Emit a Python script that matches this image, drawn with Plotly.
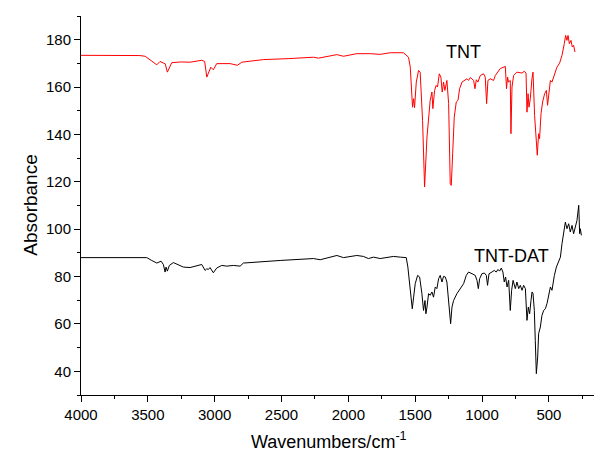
import plotly.graph_objects as go

# TNT spectrum (red), wavenumber / absorbance
wn_tnt = [4000, 3700, 3560, 3520, 3484, 3433, 3409, 3370, 3354, 3321, 3250, 3184, 3097, 3075,
          3059, 3029, 3010, 2985, 2885, 2830, 2797, 2635, 2450, 2261, 2224, 2086, 2037, 1937,
          1837, 1762, 1687, 1588, 1550, 1537, 1520, 1512, 1505, 1492, 1475, 1463, 1445, 1430,
          1412, 1400, 1388, 1375, 1368, 1355, 1343, 1333, 1320, 1308, 1298, 1288, 1278, 1263,
          1250, 1238, 1230, 1220, 1208, 1193, 1180, 1168, 1150, 1113, 1101, 1088, 1063, 1053,
          1043, 1031, 1013, 989, 976, 966, 956, 939, 914, 901, 864, 826, 821, 817, 809, 802,
          789, 784, 776, 764, 739, 701, 684, 671, 664, 656, 649, 639, 627, 619, 607, 597, 587,
          577, 570, 559, 547, 532, 519, 510, 499, 489, 477, 465, 440, 420, 402, 385, 375, 365,
          357, 347, 335, 325, 315, 305]
abs_tnt = [173.4, 173.4, 173.3, 173.0, 171.6, 169.4, 170.8, 169.8, 166.3, 170.3, 170.6, 170.5,
           171.3, 170.8, 164.2, 168.4, 167.3, 169.9, 169.9, 169.2, 170.5, 171.6, 172.0, 172.6,
           172.2, 173.7, 173.0, 174.1, 174.1, 173.8, 174.5, 174.5, 172.6, 168.4, 151.5, 155.1,
           151.3, 162.1, 167.0, 166.3, 145.9, 117.8, 138.9, 148.0, 154.4, 157.9, 150.9, 158.6,
           160.7, 160.0, 165.6, 164.2, 157.9, 162.1, 158.6, 162.8, 153.0, 119.2, 118.5, 131.9,
           147.3, 153.7, 154.4, 159.3, 162.1, 163.5, 162.8, 164.0, 162.8, 159.3, 163.1, 162.1,
           164.9, 165.6, 164.2, 153.0, 162.8, 163.5, 162.8, 164.9, 167.8, 168.7, 164.9, 159.3,
           164.2, 162.1, 162.8, 140.3, 160.0, 164.9, 166.3, 165.9, 166.7, 165.9, 149.4, 157.2,
           151.5, 155.1, 163.5, 166.3, 148.0, 140.3, 131.2, 140.3, 138.2, 148.8, 153.7, 157.2,
           158.6, 152.3, 157.2, 162.8, 162.1, 164.2, 168.4, 170.1, 173.4, 178.3, 181.8, 179.7,
           181.8, 178.3, 179.7, 176.9, 177.6, 174.8]

# TNT-DAT spectrum (black)
wn_dat = [4000, 3700, 3508, 3471, 3433, 3401, 3384, 3371, 3364, 3354, 3339, 3309, 3272, 3234,
          3184, 3135, 3097, 3072, 3059, 3047, 3035, 3010, 2985, 2947, 2910, 2860, 2810, 2785,
          2635, 2510, 2261, 2211, 2086, 2037, 1937, 1887, 1850, 1812, 1762, 1712, 1662, 1612,
          1567, 1555, 1537, 1522, 1512, 1500, 1482, 1467, 1450, 1438, 1427, 1420, 1412, 1400,
          1388, 1375, 1363, 1350, 1338, 1325, 1313, 1300, 1288, 1275, 1263, 1250, 1235, 1225,
          1213, 1188, 1163, 1138, 1118, 1101, 1075, 1051, 1038, 1028, 1018, 1001, 983, 968,
          959, 948, 926, 909, 894, 881, 869, 856, 844, 834, 824, 813, 801, 789, 779, 768, 751,
          739, 726, 714, 701, 689, 676, 664, 654, 644, 634, 626, 619, 609, 602, 594, 584, 577,
          564, 552, 539, 527, 514, 502, 489, 477, 469, 459, 444, 427, 414, 402, 390, 377, 365,
          352, 340, 327, 315, 302, 290, 277, 270, 265, 257]
abs_dat = [88.0, 88.0, 88.0, 86.8, 85.7, 86.5, 85.1, 81.9, 84.0, 82.3, 84.7, 85.9, 85.0, 84.0,
           83.8, 84.7, 85.1, 82.6, 83.3, 83.0, 83.8, 81.6, 83.6, 84.7, 84.4, 84.7, 84.4, 85.7,
           86.4, 86.8, 87.6, 87.1, 88.9, 88.0, 88.9, 88.5, 87.6, 88.2, 87.6, 88.0, 88.5, 88.2,
           88.0, 84.0, 75.6, 66.4, 71.3, 77.0, 80.5, 79.8, 72.8, 65.7, 69.9, 64.3, 67.1, 72.8,
           72.1, 73.5, 71.3, 75.6, 74.9, 79.1, 80.5, 77.7, 80.1, 79.8, 77.7, 69.9, 60.1, 67.1,
           69.9, 72.8, 74.9, 77.0, 80.5, 81.9, 81.2, 80.5, 78.4, 74.9, 79.1, 81.2, 81.5, 80.5,
           76.3, 81.2, 81.9, 82.6, 81.9, 83.0, 82.3, 83.6, 81.9, 77.7, 79.8, 75.6, 78.4, 65.7,
           74.2, 78.4, 74.9, 77.7, 74.9, 76.3, 74.2, 76.3, 74.9, 61.5, 67.1, 64.3, 69.9, 73.5,
           72.8, 65.7, 53.1, 39.0, 46.0, 55.9, 58.7, 63.6, 65.7, 66.4, 68.6, 72.8, 75.6, 74.2,
           77.7, 80.5, 84.0, 86.8, 88.2, 93.9, 99.5, 103.0, 100.2, 102.3, 98.8, 101.6, 98.1,
           100.9, 103.7, 110.1, 98.1, 100.2, 97.4]

fig = go.Figure()
fig.add_trace(go.Scatter(x=wn_tnt, y=abs_tnt, mode='lines', name='TNT',
                         line=dict(color='#ff0000', width=1)))
fig.add_trace(go.Scatter(x=wn_dat, y=abs_dat, mode='lines', name='TNT-DAT',
                         line=dict(color='#000000', width=1)))

axis_common = dict(
    showline=True, linecolor='black', linewidth=1,
    ticks='outside', ticklen=6, tickwidth=1, tickcolor='black',
    showgrid=False, zeroline=False, automargin=False,
    tickfont=dict(size=15, color='black'),
)

# page body adds an 8px offset, margins are trimmed to make up for it
fig.update_layout(
    width=602, height=454,
    margin=dict(l=73, r=0, t=8, b=67),
    paper_bgcolor='white', plot_bgcolor='white',
    font=dict(family='Liberation Sans, Arial, sans-serif', color='black'),
    showlegend=False,
    xaxis=dict(
        range=[4000, 43], tickvals=[4000, 3500, 3000, 2500, 2000, 1500, 1000, 500],
        minor=dict(dtick=250, ticks='outside', ticklen=3, tickcolor='black', showgrid=False),
        **axis_common,
    ),
    yaxis=dict(
        range=[30, 190], tickvals=[40, 60, 80, 100, 120, 140, 160, 180],
        minor=dict(dtick=10, ticks='outside', ticklen=3, tickcolor='black', showgrid=False),
        **axis_common,
    ),
    annotations=[
        dict(x=1141, y=174.6, text='TNT', showarrow=False, font=dict(size=18)),
        dict(x=781, y=88.5, text='TNT-DAT', showarrow=False, font=dict(size=18)),
        dict(xref='paper', yref='paper', x=0.469, y=-0.121, yanchor='middle',
             text='Wavenumbers/cm<sup>-1</sup>', showarrow=False, font=dict(size=18)),
        dict(xref='paper', yref='paper', x=-0.119, y=0.501, textangle=-90,
             text='Absorbance', showarrow=False, font=dict(size=19)),
    ],
)

fig.write_html("out.html")
